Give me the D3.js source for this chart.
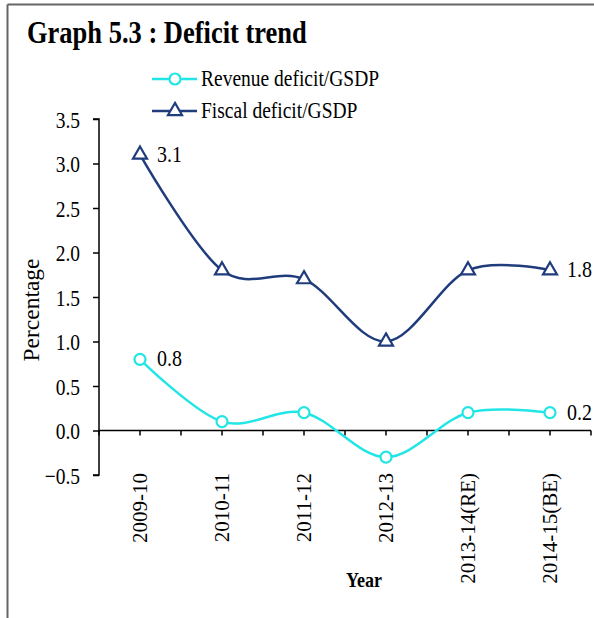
<!DOCTYPE html>
<meta charset="utf-8">
<style>
  body { margin: 0; background: #fff; }
  svg { display: block; font-family: "Liberation Serif", "Times New Roman", serif; }
  .axis path, .axis line { stroke: #000; stroke-width: 1.5px; }
  .axis text { font-family: "Liberation Serif", "Times New Roman", serif; font-size: 19.5px; fill: #000; }
</style>
<svg width="594" height="618"></svg>
<script src="https://d3js.org/d3.v7.min.js"></script>
<script>
  var years = ["2009-10", "2010-11", "2011-12", "2012-13", "2013-14(RE)", "2014-15(BE)"];
  var revenueDeficit = [0.8, 0.1, 0.2, -0.3, 0.2, 0.2];
  var fiscalDeficit = [3.1, 1.8, 1.7, 1.0, 1.8, 1.8];
  var yTicks = [-0.5, 0, 0.5, 1, 1.5, 2, 2.5, 3, 3.5];

  var svg = d3.select("svg");
  // the source glyphs are a little taller than wide
  var stretch = " scale(1,1.18)";

  // frame (only top and left edges visible)
  svg.append("line").attr("x1", 7.5).attr("y1", 4.5).attr("x2", 594).attr("y2", 4.5)
    .attr("stroke", "#666").attr("stroke-width", 2);
  svg.append("line").attr("x1", 7.5).attr("y1", 4.5).attr("x2", 7.5).attr("y2", 618)
    .attr("stroke", "#666").attr("stroke-width", 2);

  svg.append("text")
    .attr("transform", "translate(27,43)" + stretch)
    .style("font-size", "26.5px").style("font-weight", "bold")
    .text("Graph 5.3 : Deficit trend");

  var x = d3.scaleBand().domain(years).range([99, 591]);
  var y = d3.scaleLinear().domain([-0.5, 3.5]).range([475, 119]);

  // y axis
  svg.append("g").attr("class", "axis")
    .attr("transform", "translate(99,0)")
    .call(d3.axisLeft(y).tickValues(yTicks).tickSize(6).tickPadding(13)
      .tickFormat(d3.format(".1f")))
    .attr("font-family", null).attr("font-size", null)
    .call(function (g) { g.select(".domain").attr("d", "M-6," + y(-0.5) + "H0V" + y(3.5) + "H-6"); })
    .call(function (g) {
      g.selectAll("text").attr("dy", "0.36em").attr("transform", stretch);
    });

  // x axis at zero, ticks on category centers and boundaries
  var xg = svg.append("g").attr("class", "axis");
  xg.append("line").attr("x1", x.range()[0]).attr("x2", x.range()[1])
    .attr("y1", y(0)).attr("y2", y(0));
  var tickPos = [];
  years.forEach(function (d) { tickPos.push(x(d)); tickPos.push(x(d) + x.bandwidth() / 2); });
  tickPos.push(x.range()[1]);
  xg.selectAll(".tk").data(tickPos).enter().append("line")
    .attr("x1", function (d) { return d; }).attr("x2", function (d) { return d; })
    .attr("y1", y(0)).attr("y2", y(0) + 5);
  xg.selectAll(".lbl").data(years).enter().append("text")
    .attr("transform", function (d) { return "translate(" + (x(d) + x.bandwidth() / 2 + 7) + ",473) rotate(-90)"; })
    .attr("text-anchor", "end")
    .style("font-size", "21px")
    .text(function (d) { return d; });

  svg.append("text")
    .attr("transform", "translate(39,310) rotate(-90)")
    .attr("text-anchor", "middle")
    .style("font-size", "23.5px")
    .text("Percentage");

  svg.append("text")
    .attr("transform", "translate(364,587)" + stretch)
    .attr("text-anchor", "middle")
    .style("font-size", "18px").style("font-weight", "bold")
    .text("Year");

  var cx = function (i) { return x(years[i]) + x.bandwidth() / 2; };
  var line = d3.line()
    .x(function (d, i) { return cx(i); })
    .y(function (d) { return y(d); })
    .curve(d3.curveCardinal.tension(0));

  var revColor = "#22E6E6", fisColor = "#203C7C";

  svg.append("path").datum(fiscalDeficit).attr("d", line)
    .attr("fill", "none").attr("stroke", fisColor).attr("stroke-width", 2.5);
  svg.append("path").datum(revenueDeficit).attr("d", line)
    .attr("fill", "none").attr("stroke", revColor).attr("stroke-width", 2.5);

  var tri = d3.symbol().type(d3.symbolTriangle).size(85);
  svg.selectAll(".fm").data(fiscalDeficit).enter().append("path")
    .attr("d", tri)
    .attr("transform", function (d, i) { return "translate(" + cx(i) + "," + y(d) + ")"; })
    .attr("fill", "#fff").attr("stroke", fisColor).attr("stroke-width", 2.2);

  svg.selectAll(".rm").data(revenueDeficit).enter().append("circle")
    .attr("cx", function (d, i) { return cx(i); })
    .attr("cy", function (d) { return y(d); })
    .attr("r", 5.5)
    .attr("fill", "#fff").attr("stroke", revColor).attr("stroke-width", 2.2);

  // data labels at ends
  function endLabels(series) {
    [0, series.length - 1].forEach(function (i) {
      svg.append("text")
        .attr("transform", "translate(" + (cx(i) + 17) + "," + (y(series[i]) + 7) + ")" + stretch)
        .style("font-size", "20px")
        .text(d3.format(".1f")(series[i]));
    });
  }
  endLabels(fiscalDeficit);
  endLabels(revenueDeficit);

  // legend
  var legend = [
    { name: "Revenue deficit/GSDP", color: revColor, shape: "circle", y: 79 },
    { name: "Fiscal deficit/GSDP", color: fisColor, shape: "tri", y: 111 }
  ];
  legend.forEach(function (l) {
    var g = svg.append("g").attr("transform", "translate(152," + l.y + ")");
    g.append("line").attr("x1", 0).attr("x2", 45).attr("stroke", l.color).attr("stroke-width", 2.5);
    if (l.shape === "circle") {
      g.append("circle").attr("cx", 23).attr("r", 5.5)
        .attr("fill", "#fff").attr("stroke", l.color).attr("stroke-width", 2.2);
    } else {
      g.append("path").attr("d", tri).attr("transform", "translate(23,0)")
        .attr("fill", "#fff").attr("stroke", l.color).attr("stroke-width", 2.2);
    }
    g.append("text").attr("transform", "translate(49,7)" + stretch)
      .style("font-size", "19.5px").text(l.name);
  });
</script>
